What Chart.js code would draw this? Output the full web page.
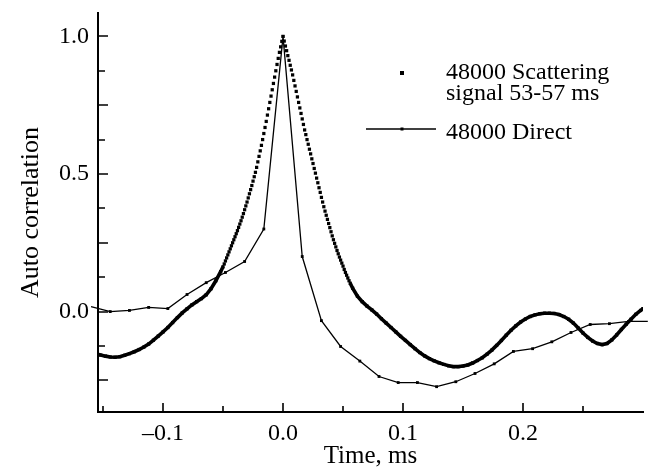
<!DOCTYPE html>
<html>
<head>
<meta charset="utf-8">
<script src="https://cdn.jsdelivr.net/npm/chart.js@4"></script>
<style>
  html, body { margin: 0; padding: 0; background: #fff; }
  canvas { display: block; }
</style>
</head>
<body>
<canvas id="myChart" width="649" height="468"></canvas>
<script>
// 48000 Direct, one marker every 16 us
let directTime = [-0.160, -0.144, -0.128, -0.112, -0.096, -0.080, -0.064, -0.048, -0.032, -0.016,
  0.000, 0.016, 0.032, 0.048, 0.064, 0.080, 0.096, 0.112, 0.128, 0.144,
  0.160, 0.176, 0.192, 0.208, 0.224, 0.240, 0.256, 0.272, 0.288, 0.304];
let directValue = [0.018, 0.000, 0.004, 0.015, 0.011, 0.062, 0.105, 0.142, 0.182, 0.300,
  1.000, 0.200, -0.033, -0.127, -0.180, -0.236, -0.258, -0.258, -0.273, -0.255,
  -0.225, -0.190, -0.145, -0.135, -0.110, -0.076, -0.047, -0.044, -0.036, -0.036];

// 48000 Scattering signal 53-57 ms, left tail
let scatterLeftTime = [-0.156, -0.152, -0.148, -0.144, -0.140, -0.136, -0.132, -0.128, -0.124, -0.120,
  -0.116, -0.112, -0.108, -0.104, -0.100, -0.096, -0.092, -0.088, -0.084, -0.080,
  -0.076, -0.072, -0.068, -0.064, -0.060, -0.056, -0.052];
let scatterLeftValue = [-0.153, -0.158, -0.162, -0.165, -0.166, -0.164, -0.159, -0.153, -0.146, -0.138,
  -0.129, -0.118, -0.104, -0.089, -0.074, -0.058, -0.040, -0.022, -0.005, 0.010,
  0.024, 0.036, 0.047, 0.061, 0.083, 0.112, 0.145];

// peak, every sample (1 us)
let scatterPeakTime = [-0.050, -0.049, -0.048, -0.047, -0.046, -0.045, -0.044, -0.043, -0.042, -0.041,
  -0.040, -0.039, -0.038, -0.037, -0.036, -0.035, -0.034, -0.033, -0.032, -0.031,
  -0.030, -0.029, -0.028, -0.027, -0.026, -0.025, -0.024, -0.023, -0.022, -0.021,
  -0.020, -0.019, -0.018, -0.017, -0.016, -0.015, -0.014, -0.013, -0.012, -0.011,
  -0.010, -0.009, -0.008, -0.007, -0.006, -0.005, -0.004, -0.003, -0.002, -0.001,
  0.000, 0.001, 0.002, 0.003, 0.004, 0.005, 0.006, 0.007, 0.008, 0.009,
  0.010, 0.011, 0.012, 0.013, 0.014, 0.015, 0.016, 0.017, 0.018, 0.019,
  0.020, 0.021, 0.022, 0.023, 0.024, 0.025, 0.026, 0.027, 0.028, 0.029,
  0.030, 0.031, 0.032, 0.033, 0.034, 0.035, 0.036, 0.037, 0.038, 0.039,
  0.040, 0.041, 0.042, 0.043, 0.044, 0.045, 0.046, 0.047, 0.048, 0.049,
  0.050, 0.051, 0.052, 0.053, 0.054, 0.055, 0.056];
let scatterPeakValue = [0.163, 0.173, 0.184, 0.195, 0.206, 0.217, 0.228, 0.239, 0.250, 0.261,
  0.272, 0.283, 0.294, 0.306, 0.318, 0.330, 0.343, 0.356, 0.370, 0.384,
  0.398, 0.413, 0.428, 0.443, 0.458, 0.474, 0.490, 0.506, 0.524, 0.544,
  0.564, 0.584, 0.604, 0.625, 0.647, 0.669, 0.691, 0.714, 0.737, 0.760,
  0.783, 0.806, 0.829, 0.852, 0.875, 0.898, 0.920, 0.942, 0.962, 0.982,
  1.000, 0.983, 0.965, 0.948, 0.930, 0.913, 0.895, 0.878, 0.860, 0.840,
  0.820, 0.800, 0.780, 0.760, 0.740, 0.720, 0.700, 0.680, 0.660, 0.643,
  0.625, 0.608, 0.590, 0.573, 0.555, 0.538, 0.520, 0.503, 0.485, 0.468,
  0.450, 0.433, 0.415, 0.398, 0.381, 0.365, 0.350, 0.335, 0.320, 0.305,
  0.290, 0.275, 0.261, 0.248, 0.235, 0.222, 0.210, 0.198, 0.187, 0.176,
  0.165, 0.153, 0.142, 0.132, 0.122, 0.112, 0.103];

// right tail
let scatterRightTime = [0.058, 0.062, 0.066, 0.070, 0.074, 0.078, 0.082, 0.086, 0.090, 0.094,
  0.098, 0.102, 0.106, 0.110, 0.114, 0.118, 0.122, 0.126, 0.130, 0.134,
  0.138, 0.142, 0.146, 0.150, 0.154, 0.158, 0.162, 0.166, 0.170, 0.174,
  0.178, 0.182, 0.186, 0.190, 0.194, 0.198, 0.202, 0.206, 0.210, 0.214,
  0.218, 0.222, 0.226, 0.230, 0.234, 0.238, 0.242, 0.246, 0.250, 0.254,
  0.258, 0.262, 0.266, 0.270, 0.274, 0.278, 0.282, 0.286, 0.290, 0.294,
  0.298, 0.300];
let scatterRightValue = [0.085, 0.056, 0.036, 0.020, 0.006, -0.009, -0.026, -0.042, -0.058, -0.074,
  -0.090, -0.105, -0.120, -0.135, -0.149, -0.161, -0.171, -0.179, -0.186, -0.192,
  -0.197, -0.200, -0.200, -0.198, -0.194, -0.187, -0.178, -0.168, -0.155, -0.140,
  -0.123, -0.105, -0.086, -0.068, -0.052, -0.038, -0.027, -0.018, -0.012, -0.008,
  -0.006, -0.006, -0.007, -0.011, -0.018, -0.028, -0.042, -0.060, -0.078, -0.094,
  -0.107, -0.116, -0.120, -0.116, -0.103, -0.085, -0.065, -0.046, -0.028, -0.010,
  0.004, 0.011];

// axes
let xLabelTicks = [-0.1, 0.0, 0.1, 0.2];
let xMinorTicks = [-0.15, -0.05, 0.05, 0.15, 0.25];
let yLabelTicks = [0.0, 0.5, 1.0];
let yMajorTicks = [-0.25, 0.0, 0.25, 0.5, 0.75, 1.0];
let yMinorTicks = [-0.125, 0.125, 0.375, 0.625, 0.875];

const serif = '"Liberation Serif", "Times New Roman", serif';

function pairs(t, v) {
  return t.map((tt, i) => ({x: tt, y: v[i]}));
}

const scatterData = pairs(scatterLeftTime, scatterLeftValue)
  .concat(pairs(scatterPeakTime, scatterPeakValue))
  .concat(pairs(scatterRightTime, scatterRightValue));

// ticks point into the plot
const inwardTicks = {
  id: 'inwardTicks',
  afterDatasetsDraw(chart) {
    const {ctx, chartArea, scales} = chart;
    const x = scales.x, y = scales.y;
    ctx.save();
    ctx.strokeStyle = '#000';
    ctx.lineWidth = 1.6;
    ctx.beginPath();
    xLabelTicks.forEach(v => {
      const px = Math.round(x.getPixelForValue(v));
      ctx.moveTo(px, chartArea.bottom); ctx.lineTo(px, chartArea.bottom - 9);
    });
    xMinorTicks.forEach(v => {
      const px = Math.round(x.getPixelForValue(v));
      ctx.moveTo(px, chartArea.bottom); ctx.lineTo(px, chartArea.bottom - 6);
    });
    yMajorTicks.forEach(v => {
      const py = Math.round(y.getPixelForValue(v));
      ctx.moveTo(chartArea.left, py); ctx.lineTo(chartArea.left + 10, py);
    });
    yMinorTicks.forEach(v => {
      const py = Math.round(y.getPixelForValue(v));
      ctx.moveTo(chartArea.left, py); ctx.lineTo(chartArea.left + 7, py);
    });
    ctx.stroke();
    ctx.restore();
  }
};

// legend in the upper right of the plot
const sideLegend = {
  id: 'sideLegend',
  afterDraw(chart) {
    const {ctx, chartArea} = chart;
    const sets = chart.data.datasets;
    const markX = chartArea.left + 304;
    const textX = chartArea.left + 348;
    ctx.save();
    ctx.fillStyle = '#000';
    ctx.strokeStyle = '#000';
    ctx.font = '24px ' + serif;
    ctx.textBaseline = 'alphabetic';
    ctx.textAlign = 'left';

    let lines = sets[0].label.split('\n');
    ctx.fillRect(markX - 2, chartArea.top + 58, 4, 4);
    ctx.fillText(lines[0], textX, chartArea.top + 66);
    ctx.fillText(lines[1], textX, chartArea.top + 87);

    let ly = chartArea.top + 116;
    ctx.lineWidth = 1.3;
    ctx.beginPath();
    ctx.moveTo(markX - 36, ly); ctx.lineTo(markX + 34, ly);
    ctx.stroke();
    ctx.fillRect(markX - 1.5, ly - 1.5, 3, 3);
    ctx.fillText(sets[1].label, textX, chartArea.top + 126);
    ctx.restore();
  }
};

let chartElement = document.getElementById('myChart').getContext('2d');

let myChart = new Chart(chartElement, {
  type: 'line',
  data: {
    datasets: [{
      label: '48000 Scattering\nsignal 53-57 ms',
      data: scatterData,
      borderColor: '#000',
      backgroundColor: '#000',
      borderWidth: 3.6,
      pointStyle: 'rect',
      pointRadius: 2.3,
      pointBorderWidth: 0,
      pointBackgroundColor: '#000',
      tension: 0,
      segment: {
        // the sampled points touch each other except on the steep flanks
        borderColor: c => (c.p1.x - c.p0.x) < 2 ? 'rgba(0,0,0,0)' : '#000'
      }
    }, {
      label: '48000 Direct',
      data: pairs(directTime, directValue),
      borderColor: '#000',
      backgroundColor: '#000',
      borderWidth: 1.3,
      pointStyle: 'rect',
      pointRadius: 2,
      pointBorderWidth: 0,
      pointBackgroundColor: '#000',
      tension: 0,
      clip: false
    }]
  },
  options: {
    responsive: false,
    animation: false,
    events: [],
    layout: { padding: { top: 13, right: 6, left: 0, bottom: 0 } },
    plugins: {
      legend: { display: false },
      tooltip: { enabled: false }
    },
    scales: {
      x: {
        type: 'linear',
        min: -0.1542,
        max: 0.3,
        grid: { display: false, drawTicks: false },
        border: { display: true, color: '#000', width: 2 },
        afterBuildTicks: s => { s.ticks = xLabelTicks.map(v => ({value: v})); },
        afterFit: s => { s.height = 56; s.paddingLeft = 0; s.paddingRight = 0; },
        ticks: {
          color: '#000',
          padding: 7,
          maxRotation: 0,
          font: { family: serif, size: 24 },
          callback: v => (v < 0 ? '\u2013' : '') + Math.abs(v).toFixed(1)
        },
        title: {
          display: true,
          text: 'Time, ms',
          color: '#000',
          font: { family: serif, size: 25, lineHeight: 1 },
          padding: { top: 0, bottom: -1 }
        }
      },
      y: {
        type: 'linear',
        min: -0.365,
        max: 1.085,
        grid: { display: false, drawTicks: false },
        border: { display: true, color: '#000', width: 2 },
        afterBuildTicks: s => { s.ticks = yLabelTicks.map(v => ({value: v})); },
        afterFit: s => { s.width = 98; s.paddingTop = 0; s.paddingBottom = 0; },
        ticks: {
          color: '#000',
          padding: 9,
          font: { family: serif, size: 24 },
          callback: v => v.toFixed(1)
        },
        title: {
          display: true,
          text: 'Auto correlation',
          color: '#000',
          font: { family: serif, size: 26, lineHeight: 1 },
          padding: { top: 18, bottom: 0 }
        }
      }
    }
  },
  plugins: [inwardTicks, sideLegend]
});
</script>
</body>
</html>
